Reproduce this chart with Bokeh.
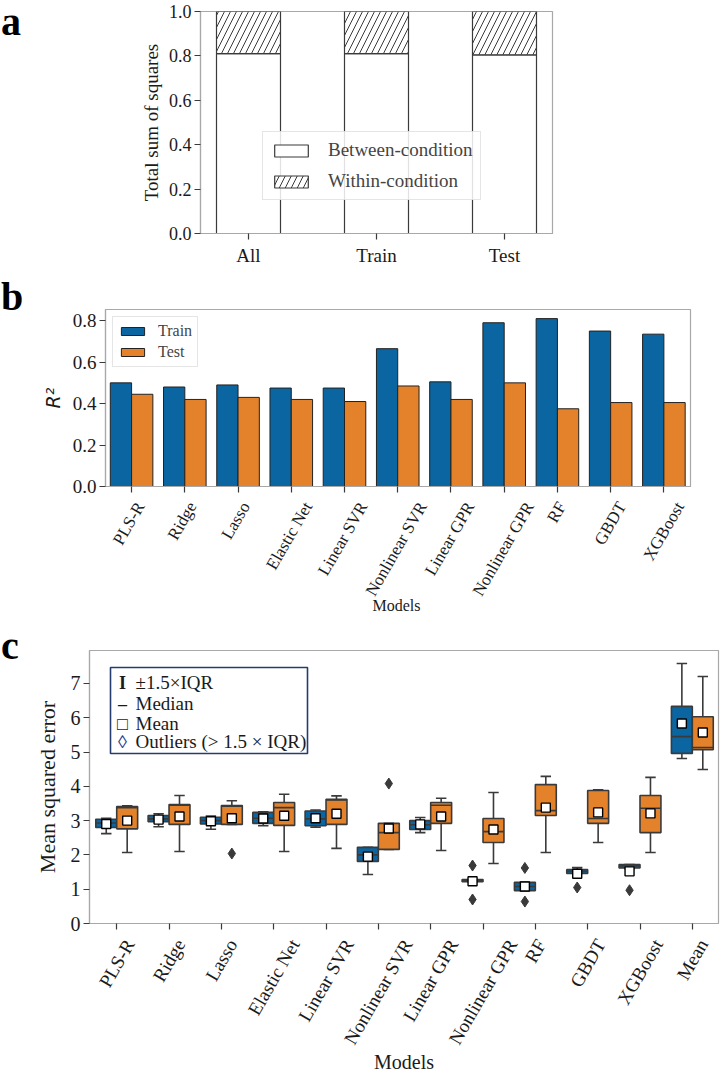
import math
from bokeh.plotting import figure
from bokeh.layouts import column, row
from bokeh.models import (Range1d, FixedTicker, PrintfTickFormatter, Legend, LegendItem,
                          ColumnDataSource, Div)
from bokeh.transform import dodge
from bokeh.embed import file_html
from bokeh.resources import INLINE
from bokeh.core.properties import value

SERIF = "Liberation Serif"
BLUE = "#0a65a0"
ORANGE = "#e4822b"
EDGE = "#3a3a3a"
SPINE = "#a8a8a8"
TXT = "#1a1a1a"

# ---------------- data ----------------
# panel a
subsets = ["All", "Train", "Test"]
between_ss = [0.81, 0.81, 0.805]
within_ss = [0.19, 0.19, 0.195]

# panel b
models = ["PLS-R", "Ridge", "Lasso", "Elastic Net", "Linear SVR", "Nonlinear SVR",
          "Linear GPR", "Nonlinear GPR", "RF", "GBDT", "XGBoost"]
r2_train = [0.50, 0.48, 0.49, 0.475, 0.475, 0.665, 0.505, 0.79, 0.81, 0.75, 0.735]
r2_test = [0.445, 0.42, 0.43, 0.42, 0.41, 0.485, 0.42, 0.50, 0.375, 0.405, 0.405]

# panel c
mse_models = models + ["Mean"]
train_whislo = [2.62, 2.82, 2.75, 2.85, 2.81, 1.43, 2.65, 1.22, 0.96, 1.46, 1.60, 4.81]
train_q1 = [2.80, 2.97, 2.90, 2.92, 2.85, 1.81, 2.74, 1.22, 0.96, 1.46, 1.62, 4.96]
train_median = [2.93, 3.05, 3.00, 3.07, 3.05, 2.00, 2.88, 1.25, 1.08, 1.52, 1.68, 5.45]
train_q3 = [3.04, 3.15, 3.10, 3.24, 3.28, 2.22, 3.00, 1.28, 1.20, 1.57, 1.72, 6.33]
train_whishi = [3.07, 3.20, 3.13, 3.26, 3.31, 2.22, 3.09, 1.28, 1.20, 1.63, 1.72, 7.58]
train_mean = [2.90, 3.03, 2.98, 3.06, 3.07, 1.95, 2.89, 1.23, 1.08, 1.45, 1.52, 5.83]
train_outliers = [[], [], [], [], [], [], [], [1.69, 0.70], [1.62, 0.64], [1.05], [0.97], []]

test_whislo = [2.07, 2.10, 2.89, 2.10, 2.19, 2.16, 2.13, 1.75, 2.07, 2.36, 2.07, 4.49]
test_q1 = [2.76, 2.89, 2.89, 2.86, 2.89, 2.16, 2.92, 2.36, 3.15, 2.92, 2.65, 5.07]
test_median = [3.38, 3.45, 3.42, 3.38, 3.60, 2.65, 3.45, 2.68, 3.29, 3.06, 3.36, 5.13]
test_q3 = [3.41, 3.47, 3.44, 3.53, 3.62, 2.92, 3.53, 3.06, 4.05, 3.88, 3.73, 6.03]
test_whishi = [3.43, 3.73, 3.58, 3.77, 3.72, 2.92, 3.65, 3.82, 4.29, 3.90, 4.26, 7.20]
test_mean = [3.00, 3.12, 3.07, 3.14, 3.20, 2.77, 3.12, 2.74, 3.38, 3.24, 3.21, 5.57]
test_outliers = [[], [], [2.04], [], [], [4.08], [], [], [], [], [], []]

legend_c_texts = ["\u00b11.5\u00d7IQR", "Median", "Mean", "Outliers (> 1.5 \u00d7 IQR)"]
legend_c_icons = ["I", "\u2013", "\u25a1", "\u25ca"]

# ---------------- helpers ----------------
LB = 64   # common left border of every figure
RB = 2    # common right border of every figure
BB = 12   # bottom border of plots whose labels live in a strip below
PAD = 13  # distance from the axis to the top of the rotated labels

TIMES_W = {' ': 250, '-': 333, 'A': 722, 'B': 667, 'C': 667, 'D': 722, 'E': 611, 'F': 556,
           'G': 722, 'I': 333, 'L': 611, 'M': 889, 'N': 722, 'P': 556, 'R': 667, 'S': 556,
           'T': 611, 'V': 722, 'X': 722, 'a': 444, 'c': 444, 'd': 500, 'e': 444, 'g': 500,
           'i': 278, 'l': 278, 'n': 500, 'o': 500, 'r': 333, 's': 389, 't': 278}


def text_w(s, size):
    return sum(TIMES_W.get(ch, 500) for ch in s) * size / 1000.0


class Frame:
    def __init__(self, left, right, top, bottom, x0, x1, y0, y1):
        self.l, self.r, self.t, self.b = left, right, top, bottom
        self.x0, self.x1, self.y0, self.y1 = x0, x1, y0, y1

    def x(self, px):
        return self.x0 + (px - self.l) * (self.x1 - self.x0) / (self.r - self.l)

    def y(self, py):
        return self.y0 + (self.b - py) * (self.y1 - self.y0) / (self.b - self.t)


def no_align(p):
    try:
        p.frame_align = False
    except Exception:
        pass


def style(p, tick_size):
    p.grid.visible = False
    p.outline_line_color = SPINE
    p.outline_line_width = 1.2
    p.background_fill_color = "white"
    p.border_fill_color = "white"
    no_align(p)
    for ax in p.axis:
        ax.axis_line_color = SPINE
        ax.axis_line_width = 1.2
        ax.major_tick_line_color = EDGE
        ax.major_tick_line_width = 1.2
        ax.major_tick_out = 6
        ax.major_tick_in = 0
        ax.minor_tick_line_color = None
        ax.major_label_text_font = SERIF
        ax.major_label_text_font_size = tick_size
        ax.major_label_text_color = TXT
        ax.axis_label_text_font = SERIF
        ax.axis_label_text_font_style = "normal"
        ax.axis_label_text_color = TXT
        ax.major_label_standoff = 3


def bare_xaxis(p, n):
    # ticks only; the rotated labels are drawn in a strip below
    p.xaxis.ticker = FixedTicker(ticks=list(range(n)))
    p.xaxis.major_label_overrides = {i: "" for i in range(n)}
    p.xaxis.major_label_text_font_size = "0px"
    p.xaxis.major_label_standoff = 0


def label_strip(x_range, names, size, pad, gap, height, frame_w, title, title_py, title_size):
    """Figure below a plot that shows its rotated category labels, centred on the ticks."""
    s = figure(width=LB + frame_w + RB, height=height, x_range=x_range,
               y_range=Range1d(-height, 0), x_axis_type=None, y_axis_type=None,
               output_backend="svg", toolbar_location=None,
               min_border_left=LB, min_border_right=RB, min_border_top=0, min_border_bottom=0)
    s.outline_line_color = None
    s.grid.visible = False
    s.background_fill_color = "white"
    s.border_fill_color = "white"
    no_align(s)
    s60, c60 = math.sin(math.pi / 3), math.cos(math.pi / 3)
    ys = []
    for n in names:
        H = text_w(n, size) * s60 + 0.9 * size * c60
        ys.append(-(pad + H / 2 - gap))
    src = ColumnDataSource(dict(x=list(range(len(names))), y=ys, text=names))
    s.text(x="x", y="y", text="text", source=src, angle=math.pi / 3,
           text_align="center", text_baseline="middle",
           text_font=value(SERIF), text_font_size="%dpx" % size, text_color=TXT)
    xr = (x_range.start + x_range.end) / 2
    s.text(x=[xr], y=[-title_py], text=[title], text_align="center", text_baseline="middle",
           text_font=value(SERIF), text_font_size=title_size, text_color=TXT)
    return s


def letter_div(letter, width, height, top):
    html = ('<div style="font-family:\'Liberation Serif\',serif;font-weight:bold;'
            'font-size:40px;line-height:40px;position:relative;left:1px;top:%dpx;'
            'color:#000">%s</div>' % (top, letter))
    return Div(text=html, width=width, height=height, margin=0)


def spacer(width, height):
    return Div(text="", width=width, height=height, margin=0)


# ---------------- panel a ----------------
# frame in page px: 200..552 , 11..233
pa = figure(width=LB + 352 + RB, height=270, x_range=Range1d(-0.375, 2.375), y_range=Range1d(0, 1.0),
            output_backend="svg", toolbar_location=None,
            min_border_left=LB, min_border_right=RB, min_border_top=11, min_border_bottom=37)
src_a = ColumnDataSource(dict(x=list(range(len(subsets))), between=between_ss, within=within_ss))
rs = pa.vbar_stack(["between", "within"], x="x", width=0.5, source=src_a,
                   fill_color="white", line_color=EDGE, line_width=1.2,
                   hatch_pattern=[" ", "/"], hatch_color=EDGE, hatch_scale=12, hatch_weight=1)
style(pa, "18px")
pa.xaxis.ticker = FixedTicker(ticks=list(range(len(subsets))))
pa.xaxis.major_label_overrides = {i: s for i, s in enumerate(subsets)}
pa.xaxis.major_label_text_font_size = "19px"
pa.xaxis.major_label_standoff = 5
pa.yaxis.ticker = FixedTicker(ticks=[0.0, 0.2, 0.4, 0.6, 0.8, 1.0])
pa.yaxis.formatter = PrintfTickFormatter(format="%.1f")
pa.yaxis.axis_label = "Total sum of squares"
pa.yaxis.axis_label_text_font_size = "19px"
pa.yaxis.axis_label_standoff = 4
leg_a = Legend(items=[LegendItem(label="Between-condition", renderers=[rs[0]]),
                      LegendItem(label="Within-condition", renderers=[rs[1]])],
               location=(62, 33), glyph_width=42, glyph_height=15, label_height=20,
               spacing=9, padding=7, label_standoff=16, margin=0,
               label_text_font=SERIF, label_text_font_size="19px",
               border_line_color="#cccccc", background_fill_alpha=0.85)
pa.add_layout(leg_a)
row_a = row(letter_div("a", 200 - LB, 270, 2), pa, spacer(720 - 552 - RB, 270), spacing=0)

# ---------------- panel b ----------------
# frame in page px: 102..690 , 309..486 ; label strip below
HB = 39 + 177 + BB
pb = figure(width=LB + 588 + RB, height=HB, x_range=Range1d(-0.49, 10.5), y_range=Range1d(0, 0.854),
            output_backend="svg", toolbar_location=None,
            min_border_left=LB, min_border_right=RB, min_border_top=39, min_border_bottom=BB)
src_b = ColumnDataSource(dict(x=list(range(len(models))), train=r2_train, test=r2_test))
rt = pb.vbar(x=dodge("x", -0.2), top="train", width=0.4, source=src_b,
             fill_color=BLUE, line_color="#222222", line_width=1)
re_ = pb.vbar(x=dodge("x", 0.2), top="test", width=0.4, source=src_b,
              fill_color=ORANGE, line_color="#222222", line_width=1)
style(pb, "19px")
pb.yaxis.ticker = FixedTicker(ticks=[0.0, 0.2, 0.4, 0.6, 0.8])
pb.yaxis.formatter = PrintfTickFormatter(format="%.1f")
pb.yaxis.axis_label = "R\u00b2"
pb.yaxis.axis_label_text_font = "DejaVu Sans"
pb.yaxis.axis_label_text_font_style = "italic"
pb.yaxis.axis_label_text_font_size = "19px"
pb.yaxis.axis_label_standoff = 6
bare_xaxis(pb, len(models))
leg_b = Legend(items=[LegendItem(label="Train", renderers=[rt]),
                      LegendItem(label="Test", renderers=[re_])],
               location="top_left", margin=7, glyph_width=29, glyph_height=10,
               label_height=18, spacing=3, padding=5, label_standoff=11,
               label_text_font=SERIF, label_text_font_size="16px",
               border_line_color="#cccccc", background_fill_alpha=0.85)
pb.add_layout(leg_b)
row_b = row(letter_div("b", 102 - LB, HB, 7), pb, spacer(720 - 690 - RB, HB), spacing=0)
SHB = 360 - HB
sb = label_strip(pb.x_range, models, 17, PAD, BB, SHB, 588, "Models", 605 - (270 + HB), "16px")
row_b2 = row(spacer(102 - LB, SHB), sb, spacer(720 - 690 - RB, SHB), spacing=0)

# ---------------- panel c ----------------
# frame in page px: 89..718 , 650..923 ; label strip below
HC = 20 + 273 + BB
fc = Frame(89, 718, 20, 293, -0.52, 11.5, 0.0, 7.96)
pc = figure(width=LB + 629 + RB, height=HC, x_range=Range1d(fc.x0, fc.x1), y_range=Range1d(fc.y0, fc.y1),
            output_backend="svg", toolbar_location=None,
            min_border_left=LB, min_border_right=RB, min_border_top=20, min_border_bottom=BB)
style(pc, "20px")


def draw_boxes(off, color, lo, q1, med, q3, hi, mean, outl):
    src = ColumnDataSource(dict(x=list(range(len(mse_models))), lo=lo, q1=q1, med=med,
                                q3=q3, hi=hi, mean=mean))
    kw = dict(source=src, line_color=EDGE, line_width=1.6)
    pc.segment(x0=dodge("x", off), y0="lo", x1=dodge("x", off), y1="q1", **kw)
    pc.segment(x0=dodge("x", off), y0="q3", x1=dodge("x", off), y1="hi", **kw)
    pc.segment(x0=dodge("x", off - 0.1), y0="lo", x1=dodge("x", off + 0.1), y1="lo", **kw)
    pc.segment(x0=dodge("x", off - 0.1), y0="hi", x1=dodge("x", off + 0.1), y1="hi", **kw)
    pc.vbar(x=dodge("x", off), bottom="q1", top="q3", width=0.4, fill_color=color, **kw)
    pc.segment(x0=dodge("x", off - 0.2), y0="med", x1=dodge("x", off + 0.2), y1="med", **kw)
    ox = [i for i, vals in enumerate(outl) for _ in vals]
    oy = [v for vals in outl for v in vals]
    osrc = ColumnDataSource(dict(x=ox, y=oy))
    pc.scatter(x=dodge("x", off), y="y", source=osrc, marker="diamond", size=11,
               fill_color=EDGE, line_color=EDGE)
    pc.scatter(x=dodge("x", off), y="mean", source=src, marker="square", size=9,
               fill_color="white", line_color="black", line_width=1.4)


draw_boxes(-0.2, BLUE, train_whislo, train_q1, train_median, train_q3, train_whishi,
           train_mean, train_outliers)
draw_boxes(0.2, ORANGE, test_whislo, test_q1, test_median, test_q3, test_whishi,
           test_mean, test_outliers)

pc.yaxis.ticker = FixedTicker(ticks=list(range(8)))
pc.yaxis.axis_label = "Mean squared error"
pc.yaxis.axis_label_text_font_size = "22px"
pc.yaxis.axis_label_standoff = 8
bare_xaxis(pc, len(mse_models))

# custom legend for panel c (inside the frame)
pc.quad(left=[fc.x(110)], right=[fc.x(307)], top=[fc.y(37)], bottom=[fc.y(123)],
        fill_color="white", line_color="#243c70", line_width=1.6)
leg_rows_py = [52, 73, 93, 111]
lsrc = ColumnDataSource(dict(x=[fc.x(135)] * 4, y=[fc.y(v) for v in leg_rows_py],
                             text=legend_c_texts))
pc.text(x="x", y="y", text="text", source=lsrc, text_font=value(SERIF),
        text_font_size="19px", text_baseline="middle", text_align="left", text_color=TXT)
isrc = ColumnDataSource(dict(x=[fc.x(122)] * 4, y=[fc.y(v) for v in leg_rows_py],
                             text=legend_c_icons,
                             color=[TXT, TXT, TXT, "#1f3b8a"],
                             style=["bold", "bold", "normal", "normal"]))
pc.text(x="x", y="y", text="text", source=isrc, text_font=value(SERIF),
        text_font_size="18px", text_font_style="style", text_baseline="middle",
        text_align="center", text_color="color")
row_c = row(letter_div("c", 89 - LB, HC, -4), pc, spacing=0)
SHC = 444 - HC
sc = label_strip(pc.x_range, mse_models, 19, PAD, BB, SHC, 629, "Models", 1061 - (630 + HC), "20px")
row_c2 = row(spacer(89 - LB, SHC), sc, spacing=0)

layout = column(row_a, row_b, row_b2, row_c, row_c2, spacing=0)
with open("out.html", "w") as f:
    f.write(file_html(layout, INLINE))
